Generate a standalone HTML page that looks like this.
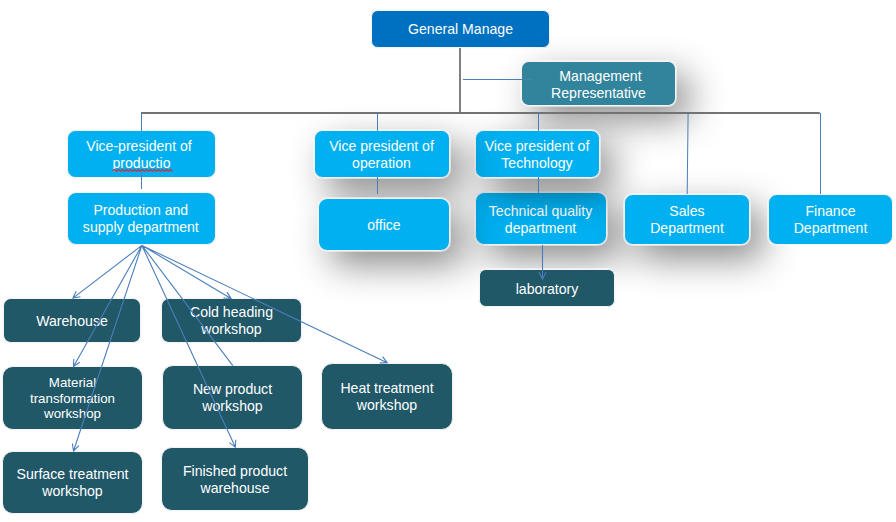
<!DOCTYPE html>
<html><head><meta charset="utf-8">
<style>
html,body{margin:0;padding:0;background:#fff;}
body{width:896px;height:522px;position:relative;overflow:hidden;font-family:"Liberation Sans",sans-serif;}
.b{position:absolute;box-sizing:border-box;border:1px solid #f6f4f3;box-shadow:0 0 0 1px rgba(250,250,250,.6);color:#fff;font-size:14.1px;line-height:17px;display:flex;align-items:center;justify-content:center;text-align:center;}
.b span{display:block;position:relative;}
.b i{font-style:normal;position:relative;display:inline-block;}
.gm{background:#0070c0;}
.mr{background:#31849b;}
.c{background:#00b0f0;}
.d{background:#215868;}
.sh{box-shadow:0 0 0 1px rgba(250,250,250,.6),13px 14px 36px rgba(0,0,0,.46);}
svg{position:absolute;left:0;top:0;}
</style></head><body>
<div class="b gm" style="left:371px;top:10px;width:179px;height:38px;border-radius:6.8px;"><span style="top:0px">General Manage</span></div>
<div class="b mr sh" style="left:521px;top:61px;width:155px;height:45px;border-radius:7.9px;"><span style="top:1px"><i style="left:2px">Management</i><br><i style="left:0px">Representative</i></span></div>
<div class="b c" style="left:67px;top:130px;width:149px;height:48px;border-radius:8.4px;"><span style="top:1px"><i style="left:-2.5px">Vice-president of</i><br>productio</span></div>
<div class="b c" style="left:67px;top:192px;width:149px;height:53px;border-radius:9.2px;"><span style="top:0px"><i style="left:-.7px">Production and<br>supply department</i></span></div>
<div class="b c sh" style="left:475px;top:192px;width:132px;height:53px;border-radius:9.2px;"><span style="top:1px"><i style="left:-.5px">Technical quality<br>department</i></span></div>
<div class="b c sh" style="left:475px;top:130px;width:125px;height:48px;border-radius:8.4px;"><span style="top:0.5px"><i style="left:-.5px">Vice president of<br>Technology</i></span></div>
<div class="b c sh" style="left:314px;top:130px;width:136px;height:48px;border-radius:8.4px;"><span style="top:0.5px"><i style="left:-.5px">Vice president of<br>operation</i></span></div>
<div class="b c sh" style="left:318px;top:198px;width:132px;height:53px;border-radius:9.2px;"><span style="top:0.5px"><i style="left:0px">office</i></span></div>
<div class="b d" style="left:479px;top:269px;width:136px;height:38px;border-radius:6.8px;"><span style="top:1px">laboratory</span></div>
<div class="b c sh" style="left:624px;top:194px;width:126px;height:51px;border-radius:8.8px;"><span style="top:0px">Sales<br>Department</span></div>
<div class="b c" style="left:768px;top:194px;width:125px;height:51px;border-radius:8.8px;"><span style="top:0px">Finance<br>Department</span></div>
<div class="b d" style="left:3px;top:298px;width:138px;height:45px;border-radius:7.9px;"><span style="top:0.75px">Warehouse</span></div>
<div class="b d" style="left:2px;top:366px;width:141px;height:64px;border-radius:10.9px;font-size:13.3px;line-height:15.5px;"><span style="top:0.5px">Material<br>transformation<br>workshop</span></div>
<div class="b d" style="left:2px;top:451px;width:141px;height:63px;border-radius:10.8px;"><span style="top:0.5px">Surface treatment<br>workshop</span></div>
<div class="b d" style="left:161px;top:298px;width:141px;height:45px;border-radius:7.9px;"><span style="top:0px">Cold heading<br>workshop</span></div>
<div class="b d" style="left:162px;top:365px;width:141px;height:65px;border-radius:11.1px;"><span style="top:0.5px">New product<br>workshop</span></div>
<div class="b d" style="left:161px;top:447px;width:148px;height:64px;border-radius:10.9px;"><span style="top:0.75px">Finished product<br>warehouse</span></div>
<div class="b d" style="left:321px;top:363px;width:132px;height:67px;border-radius:11.4px;"><span style="top:0.5px">Heat treatment<br>workshop</span></div>
<svg width="896" height="522" viewBox="0 0 896 522" fill="none">
<g stroke="#737373" stroke-width="1.8">
<line x1="460" y1="48" x2="460" y2="113.5"/>
<line x1="141" y1="113" x2="819.8" y2="113"/>
</g>
<g stroke="#4a7ebb" stroke-width="1" stroke-linejoin="miter">
<line x1="463" y1="79.5" x2="532" y2="79.5"/>
<line x1="141.5" y1="113" x2="141.5" y2="131"/>
<line x1="141.5" y1="172" x2="141.5" y2="189"/>
<line x1="377.5" y1="113" x2="377.5" y2="131"/>
<line x1="377.5" y1="177" x2="377.5" y2="194"/>
<line x1="538.5" y1="113" x2="538.5" y2="131"/>
<line x1="538.5" y1="177" x2="538.5" y2="193"/>
<line x1="688.1" y1="113" x2="687.2" y2="194"/>
<line x1="820.5" y1="113" x2="820.5" y2="194"/>
</g>
<path d="M141.9 245.4L72.9 298.1M76.2 291.2L72.9 298.1L80.4 296.7M141.9 245.4L73.5 366.5M73.8 358.9L73.5 366.5L79.8 362.3M141.9 245.4L73.5 451.0M72.4 443.5L73.5 451.0L78.9 445.7M141.9 245.4L231.0 298.5M223.4 298.0L231.0 298.5L226.9 292.1M141.9 245.4L232.8 365.6M141.9 245.4L235.4 447.2M229.4 442.6L235.4 447.2L235.7 439.7M141.9 245.4L387.2 362.8M379.7 362.9L387.2 362.8L382.6 356.7M542.5 245.0L542.5 279.0M539.0 272.2L542.5 279.0L546.0 272.2" stroke="#4a7ebb" stroke-width="1.1"/>
<path d="M112.5 170.6L114.5 169.6L116.5 171.3L118.5 169.6L120.5 171.3L122.5 169.6L124.5 171.3L126.5 169.6L128.5 171.3L130.5 169.6L132.5 171.3L134.5 169.6L136.5 171.3L138.5 169.6L140.5 171.3L142.5 169.6L144.5 171.3L146.5 169.6L148.5 171.3L150.5 169.6L152.5 171.3L154.5 169.6L156.5 171.3L158.5 169.6L160.5 171.3L162.5 169.6L164.5 171.3L166.5 169.6L168.5 171.3L170.5 169.6L172.5 171.3" stroke="#d62835" stroke-width="1.25"/>
</svg>
</body></html>
